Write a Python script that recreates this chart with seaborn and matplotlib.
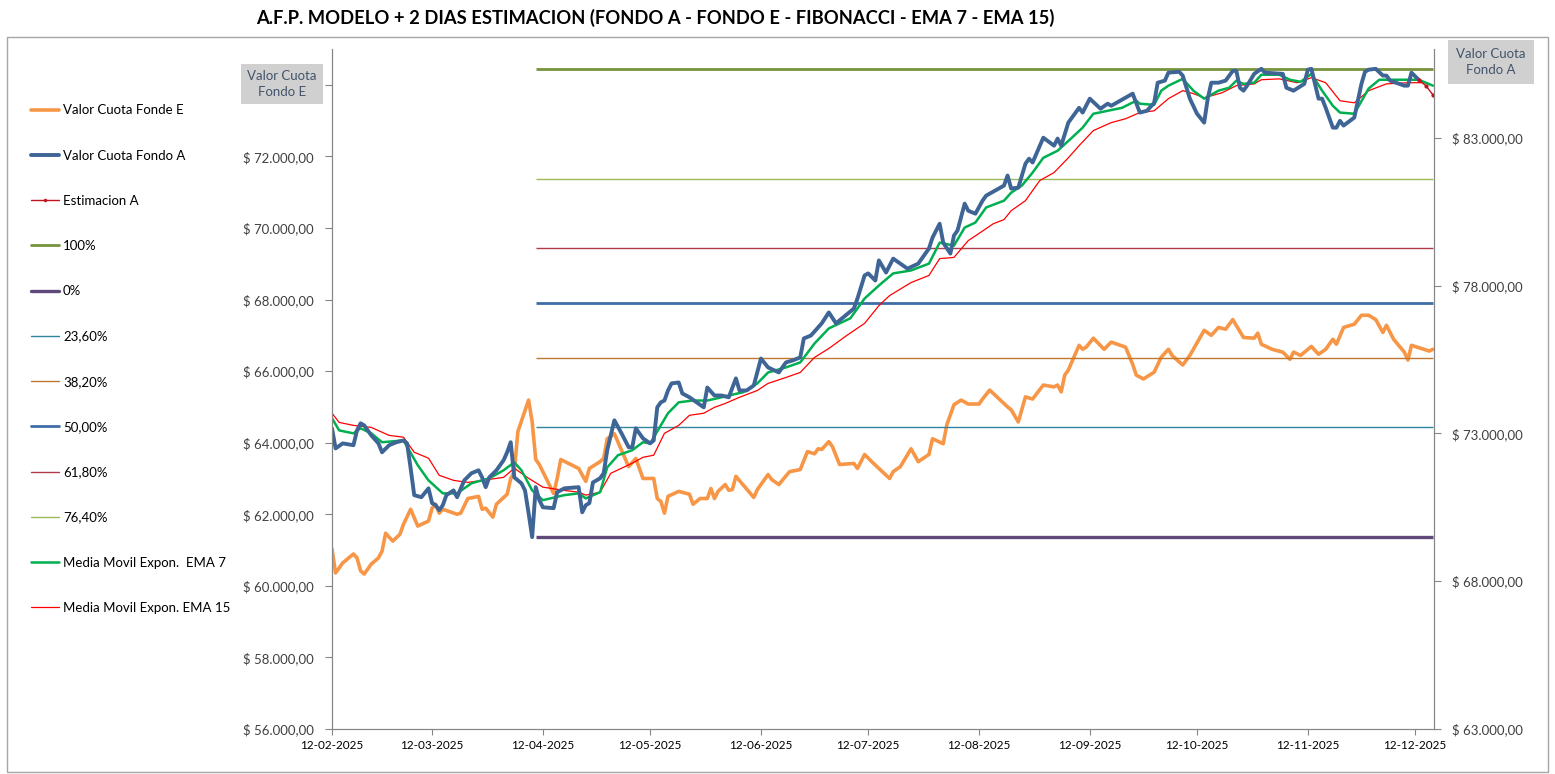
import pandas as pd
import matplotlib
matplotlib.use("Agg")
import matplotlib.pyplot as plt
import matplotlib.dates as mdates
from matplotlib.lines import Line2D
from matplotlib.patches import Rectangle
from matplotlib.ticker import FuncFormatter, FixedLocator
import seaborn as sns

# --- Settings ---
sns.set_style("white")
plt.rcParams["font.family"] = ["Lato", "DejaVu Sans"]

# --- Fondo A (eje derecho) ---
a_dates = ["02-12", "02-13", "02-15", "02-18", "02-19", "02-20", "02-21", "02-23", "02-25", "02-26",
           "02-28", "03-02", "03-04", "03-05", "03-06", "03-07", "03-09", "03-11", "03-12", "03-13",
           "03-14", "03-15", "03-16", "03-18", "03-19", "03-21", "03-23", "03-25", "03-26", "03-27",
           "03-28", "03-30", "04-01", "04-02", "04-03", "04-04", "04-06", "04-07", "04-08", "04-09",
           "04-10", "04-11", "04-12", "04-15", "04-16", "04-18", "04-22", "04-23", "04-24", "04-25",
           "04-26", "04-28", "04-29", "04-30", "05-02", "05-04", "05-06", "05-07", "05-08", "05-10",
           "05-12", "05-13", "05-14", "05-15", "05-16", "05-17", "05-18", "05-20", "05-21", "05-23",
           "05-25", "05-27", "05-28", "05-30", "06-01", "06-03", "06-05", "06-06", "06-08", "06-10",
           "06-12", "06-14", "06-17", "06-18", "06-19", "06-21", "06-23", "06-24", "06-26", "06-29",
           "07-01", "07-03", "07-05", "07-08", "07-09", "07-11", "07-12", "07-14", "07-15", "07-17",
           "07-19", "07-23", "07-26", "07-29", "07-30", "08-01", "08-02", "08-04", "08-05", "08-06",
           "08-08", "08-09", "08-11", "08-13", "08-14", "08-18", "08-19", "08-20", "08-21", "08-23",
           "08-25", "08-26", "08-27", "08-30", "09-02", "09-03", "09-04", "09-06", "09-09", "09-10",
           "09-12", "09-15", "09-17", "09-18", "09-24", "09-26", "09-28", "09-30", "10-01", "10-03",
           "10-04", "10-07", "10-08", "10-10", "10-12", "10-14", "10-15", "10-16", "10-18", "10-20",
           "10-22", "10-23", "10-24", "10-25", "10-26", "10-28", "10-30", "10-31", "11-05", "11-06",
           "11-08", "11-11", "11-12", "11-13", "11-14", "11-15", "11-16", "11-17", "11-19", "11-20",
           "11-21", "11-22", "11-25", "11-27", "11-28", "11-29", "12-01", "12-03", "12-04", "12-05",
           "12-09", "12-10", "12-11", "12-13"]
a_vals = [73170, 72490, 72660, 72600, 73100, 73340, 73270, 72930, 72660, 72360,
          72600, 72700, 72760, 72660, 71820, 70910, 70840, 71140, 70640, 70570,
          70400, 70570, 70910, 71070, 70840, 71410, 71650, 71750, 71510, 71180,
          71510, 71750, 72090, 72360, 72700, 71510, 71310, 71070, 70300, 69490,
          71180, 70740, 70500, 70470, 71010, 71140, 71180, 70330, 70570, 70640,
          71340, 71480, 71650, 72430, 73440, 73000, 72530, 72530, 73170, 72830,
          72660, 72760, 73880, 74050, 74110, 74450, 74690, 74720, 74350, 74220,
          74050, 73880, 74550, 74280, 74280, 74220, 74860, 74450, 74450, 74620,
          75530, 75230, 75060, 75230, 75400, 75470, 75570, 76210, 76310, 76720,
          77090, 76720, 76920, 77220, 77560, 78340, 78410, 78170, 78850, 78440,
          78910, 78570, 78740, 79250, 79620, 80090, 79450, 79080, 79690, 79860,
          80770, 80530, 80430, 80870, 81040, 81310, 81380, 81720, 81280, 81310,
          82120, 82290, 82160, 83000, 82730, 82970, 82730, 83510, 84010, 83850,
          84320, 83980, 84150, 84080, 84490, 83850, 83910, 84180, 84860, 84930,
          85200, 85230, 85100, 84320, 83810, 83510, 84320, 84860, 84860, 84930,
          85260, 85260, 84690, 84590, 84760, 85160, 85330, 85200, 85160, 84690,
          84590, 84820, 85300, 85330, 84820, 84320, 84320, 84010, 83340, 83340,
          83570, 83410, 83680, 84820, 85230, 85300, 85330, 85100, 85100, 84930,
          84760, 84760, 85200, 84960]

# --- Fondo E (eje izquierdo) ---
e_dates = ["02-12", "02-13", "02-15", "02-18", "02-19", "02-20", "02-21", "02-23", "02-25", "02-26",
           "02-27", "03-01", "03-03", "03-04", "03-06", "03-08", "03-11", "03-12", "03-13", "03-14",
           "03-15", "03-19", "03-20", "03-22", "03-25", "03-26", "03-27", "03-29", "03-30", "04-02",
           "04-03", "04-04", "04-05", "04-08", "04-09", "04-10", "04-11", "04-15", "04-16", "04-17",
           "04-22", "04-24", "04-25", "04-28", "04-29", "04-30", "05-02", "05-06", "05-08", "05-10",
           "05-13", "05-14", "05-15", "05-16", "05-17", "05-20", "05-23", "05-24", "05-26", "05-28",
           "05-29", "05-30", "05-31", "06-02", "06-03", "06-04", "06-05", "06-10", "06-11", "06-14",
           "06-15", "06-17", "06-20", "06-23", "06-25", "06-27", "06-28", "06-29", "07-01", "07-02",
           "07-04", "07-08", "07-09", "07-11", "07-13", "07-15", "07-18", "07-19", "07-21", "07-24",
           "07-26", "07-29", "07-30", "08-02", "08-03", "08-05", "08-07", "08-09", "08-12", "08-13",
           "08-15", "08-18", "08-20", "08-21", "08-23", "08-25", "08-27", "08-30", "09-02", "09-03",
           "09-04", "09-05", "09-06", "09-09", "09-10", "09-11", "09-13", "09-16", "09-18", "09-22",
           "09-24", "09-25", "09-27", "09-30", "10-02", "10-04", "10-05", "10-08", "10-10", "10-14",
           "10-16", "10-18", "10-20", "10-22", "10-25", "10-28", "10-29", "10-30", "11-02", "11-05",
           "11-07", "11-08", "11-10", "11-13", "11-15", "11-17", "11-19", "11-20", "11-22", "11-25",
           "11-27", "11-29", "12-01", "12-03", "12-04", "12-06", "12-09", "12-10", "12-11", "12-16",
           "12-17"]
e_vals = [61030, 60360, 60640, 60890, 60780, 60420, 60330, 60610, 60780, 60970,
          61470, 61250, 61440, 61720, 62140, 61670, 61810, 62170, 62280, 62030,
          62140, 62000, 62030, 62440, 62500, 62140, 62170, 61920, 62280, 62560,
          63000, 63190, 64310, 65190, 64580, 63530, 63390, 62580, 63000, 63530,
          63280, 62920, 63280, 63470, 63560, 64110, 64250, 63330, 63560, 63000,
          63000, 62440, 62360, 62030, 62500, 62640, 62560, 62280, 62440, 62440,
          62720, 62440, 62640, 62830, 62670, 62690, 63060, 62470, 62690, 63110,
          62970, 62830, 63190, 63250, 63750, 63690, 63830, 63810, 64030, 63890,
          63390, 63420, 63280, 63670, 63470, 63280, 63000, 63190, 63330, 63830,
          63470, 63670, 64110, 63970, 64500, 65060, 65190, 65080, 65080, 65220,
          65470, 65190, 65000, 64920, 64580, 65280, 65220, 65610, 65560, 65610,
          65420, 65890, 66030, 66720, 66610, 66670, 66920, 66610, 66810, 66670,
          66190, 65890, 65780, 65970, 66390, 66610, 66440, 66170, 66440, 67140,
          67000, 67220, 67170, 67440, 66940, 66920, 67060, 66750, 66610, 66530,
          66330, 66530, 66440, 66690, 66470, 66610, 66890, 66750, 67220, 67310,
          67560, 67560, 67440, 67080, 67280, 66890, 66530, 66310, 66720, 66560,
          66610]

# --- EMA 7 / EMA 15 (eje derecho) ---
ema7_dates = ["02-12", "02-14", "02-18", "02-20", "02-23", "02-26", "03-04", "03-08", "03-11", "03-15",
              "03-19", "03-23", "03-28", "04-01", "04-04", "04-06", "04-09", "04-12", "04-18", "04-22",
              "04-24", "04-28", "04-30", "05-03", "05-07", "05-10", "05-12", "05-17", "05-20", "05-24",
              "05-28", "06-01", "06-03", "06-07", "06-11", "06-14", "06-19", "06-23", "06-27", "07-01",
              "07-07", "07-11", "07-15", "07-19", "07-24", "07-29", "08-01", "08-05", "08-08", "08-11",
              "08-14", "08-19", "08-21", "08-24", "08-27", "08-30", "09-03", "09-07", "09-10", "09-13",
              "09-17", "09-21", "09-25", "09-26", "09-30", "10-02", "10-04", "10-08", "10-11", "10-14",
              "10-18", "10-21", "10-23", "10-25", "10-28", "10-30", "11-04", "11-07", "11-10", "11-13",
              "11-16", "11-19", "11-21", "11-25", "11-29", "12-02", "12-07", "12-13", "12-17"]
ema7_vals = [73510, 73100, 73000, 73170, 73000, 72700, 72760, 71920, 71410, 70970,
             70970, 71310, 71480, 71750, 72020, 71750, 71070, 70740, 70910, 70970,
             70800, 71010, 71850, 72260, 72430, 72700, 72660, 73680, 74050, 74110,
             74110, 74220, 74280, 74390, 74690, 75060, 75230, 75400, 76040, 76550,
             76890, 77560, 78000, 78410, 78510, 78740, 79450, 79350, 79960, 80130,
             80640, 80870, 81140, 81380, 81820, 82320, 82560, 83000, 83340, 83810,
             83910, 84010, 84250, 84150, 84110, 84590, 84760, 84990, 84590, 84320,
             84590, 84690, 84930, 84820, 84860, 85130, 85130, 84960, 84890, 85160,
             84590, 84080, 83850, 83810, 84660, 84960, 84960, 84960, 84760]

ema15_dates = ["02-12", "02-14", "02-18", "02-23", "02-28", "03-04", "03-07", "03-11", "03-14", "03-18",
               "03-22", "03-26", "04-01", "04-04", "04-08", "04-12", "04-18", "04-22", "04-24", "04-28",
               "05-01", "05-07", "05-10", "05-13", "05-16", "05-20", "05-23", "05-27", "05-30", "06-02",
               "06-06", "06-11", "06-14", "06-19", "06-23", "06-27", "07-01", "07-06", "07-11", "07-15",
               "07-18", "07-24", "07-29", "08-01", "08-05", "08-09", "08-12", "08-16", "08-19", "08-21",
               "08-25", "08-29", "09-02", "09-06", "09-09", "09-13", "09-18", "09-22", "09-26", "09-30",
               "10-04", "10-08", "10-11", "10-14", "10-19", "10-23", "10-28", "10-30", "11-04", "11-09",
               "11-13", "11-17", "11-21", "11-25", "11-29", "12-04", "12-10", "12-15"]
ema15_vals = [73680, 73370, 73270, 73200, 72930, 72870, 72360, 72160, 71580, 71410,
              71340, 71410, 71510, 71820, 71480, 71180, 71070, 71010, 70910, 71010,
              71650, 71990, 72190, 72260, 73000, 73270, 73610, 73680, 73880, 74010,
              74220, 74450, 74690, 74890, 75060, 75570, 75870, 76310, 76720, 77320,
              77660, 78100, 78340, 78910, 78950, 79520, 79760, 80090, 80230, 80530,
              80870, 81550, 81820, 82320, 82730, 83240, 83510, 83640, 83850, 83910,
              84320, 84590, 84490, 84350, 84520, 84760, 84820, 84960, 84990, 84860,
              85030, 84860, 84250, 84180, 84590, 84820, 84860, 84860]

# --- Estimacion A (2 dias) ---
est_dates = ["12-13", "12-15", "12-17"]
est_vals = [84960, 84760, 84450]

# --- Fibonacci ---
fib_labels = ["100%", "0%", "23,60%", "38,20%", "50,00%", "61,80%", "76,40%"]
fib_vals = [85330, 69490, 73230, 75540, 77410, 79280, 81590]
fib_start = "2025-04-10"
fib_end = "2025-12-17"

fib_colors = ["#77933C", "#5F497A", "#31859C", "#C0772F", "#3F6CA6", "#B03A48", "#9BBB59"]
fib_widths = [2.0, 2.4, 1.0, 1.0, 2.0, 1.0, 1.0]

xtick_dates = ["2025-02-12", "2025-03-12", "2025-04-12", "2025-05-12", "2025-06-12", "2025-07-12",
               "2025-08-12", "2025-09-12", "2025-10-12", "2025-11-12", "2025-12-12"]


def to_dt(lst):
    return pd.to_datetime(["2025-" + s for s in lst])


c_e = "#F79646"
c_a = "#3E6596"
c_ema7 = "#00B050"
c_ema15 = "#FF0000"
c_est = "#C0141C"
c_txt = "#404040"
c_lab = "#44546A"

fig = plt.figure(figsize=(15.55, 7.74), dpi=100)
fig.patches.append(Rectangle((7 / 1555, 1 - 772 / 774), 1541 / 1555, 735 / 774,
                             transform=fig.transFigure, fill=False, edgecolor="#A6A6A6", linewidth=1))

ax = fig.add_axes([332 / 1555, 1 - 729 / 774, 1102 / 1555, 680 / 774])
ax2 = ax.twinx()

# Fondo E on the left axis
sns.lineplot(x=to_dt(e_dates), y=e_vals, ax=ax, color=c_e, linewidth=2.6)

# Fibonacci levels
for v, c, w in zip(fib_vals, fib_colors, fib_widths):
    ax2.hlines(v, pd.Timestamp(fib_start), pd.Timestamp(fib_end), color=c, linewidth=w)

sns.lineplot(x=to_dt(ema15_dates), y=ema15_vals, ax=ax2, color=c_ema15, linewidth=0.9)
sns.lineplot(x=to_dt(ema7_dates), y=ema7_vals, ax=ax2, color=c_ema7, linewidth=1.8)
sns.lineplot(x=to_dt(a_dates), y=a_vals, ax=ax2, color=c_a, linewidth=2.8)
sns.lineplot(x=to_dt(est_dates), y=est_vals, ax=ax2, color=c_est, linewidth=1.0,
             marker="o", markersize=3, markeredgewidth=0)

# Axes limits / ticks
x0 = pd.Timestamp("2025-02-12")
x1 = x0 + pd.Timedelta(days=308.3)
ax.set_xlim(x0, x1)
ax.set_ylim(56000, 75000)
ax2.set_ylim(63000, 86000)
ax.set_yticks(range(56000, 75000, 2000))
ax2.set_yticks(range(63000, 86000, 5000))
ax.xaxis.set_major_locator(FixedLocator(mdates.date2num(pd.to_datetime(xtick_dates))))
ax.xaxis.set_major_formatter(mdates.DateFormatter("%d-%m-%Y"))


def money(v, pos):
    s = f"{v:,.2f}".replace(",", "X").replace(".", ",").replace("X", ".")
    return "$ " + s


def money_left(v, pos):
    # top label sits behind the axis title box in the original
    if v >= 74000:
        return ""
    return money(v, pos)


ax.yaxis.set_major_formatter(FuncFormatter(money_left))
ax2.yaxis.set_major_formatter(FuncFormatter(money))
for a in (ax, ax2):
    a.set_xlabel("")
    a.set_ylabel("")
    for s in a.spines.values():
        s.set_color("#868686")
    a.spines["top"].set_visible(False)
ax.tick_params(axis="y", colors="#868686", labelcolor=c_txt, labelsize=9.5, length=5, direction="out",
               left=True, pad=8)
ax2.tick_params(axis="y", colors="#868686", labelcolor=c_txt, labelsize=9.5, length=5, direction="out",
                right=True, pad=8)
ax.tick_params(axis="x", colors="#868686", labelcolor="#000000", labelsize=8.5, length=4,
               direction="out", bottom=True, pad=4)
ax.grid(False)
ax2.grid(False)

# Axis label boxes
fig.text(282 / 1555, 1 - 84 / 774, "Valor Cuota\nFondo E", ha="center", va="center", fontsize=9.5,
         color=c_lab, linespacing=1.35,
         bbox=dict(boxstyle="square,pad=0.5", facecolor="#D0D0D0", edgecolor="none"))
fig.text(1491 / 1555, 1 - 62 / 774, "Valor Cuota\nFondo A", ha="center", va="center", fontsize=9.5,
         color=c_lab, linespacing=1.35,
         bbox=dict(boxstyle="square,pad=0.6", facecolor="#D0D0D0", edgecolor="none"))

# Title
fig.text(655 / 1555, 1 - 18 / 774, "A.F.P. MODELO + 2 DIAS ESTIMACION (FONDO A - FONDO E - FIBONACCI - EMA 7 - EMA 15)",
         ha="center", va="center", fontsize=13.2, fontweight="bold", color="#000000")

# Legend
handles = [Line2D([], [], color=c_e, linewidth=2.6),
           Line2D([], [], color=c_a, linewidth=2.8),
           Line2D([], [], color=c_est, linewidth=1.0, marker="o", markersize=2.5, markeredgewidth=0)]
handles += [Line2D([], [], color=c, linewidth=w) for c, w in zip(fib_colors, fib_widths)]
handles += [Line2D([], [], color=c_ema7, linewidth=1.8), Line2D([], [], color=c_ema15, linewidth=0.9)]
labels = ["Valor Cuota Fonde E", "Valor Cuota Fondo A", "Estimacion A"] + fib_labels + \
         ["Media Movil Expon.  EMA 7", "Media Movil Expon. EMA 15"]
fig.legend(handles, labels, loc="upper left", bbox_to_anchor=(26 / 1555, 1 - 99 / 774), frameon=False,
           fontsize=9.5, labelspacing=2.52, handlelength=2.1, handletextpad=0.3, borderaxespad=0,
           labelcolor="#000000")

fig.savefig("out.png", dpi=100)
